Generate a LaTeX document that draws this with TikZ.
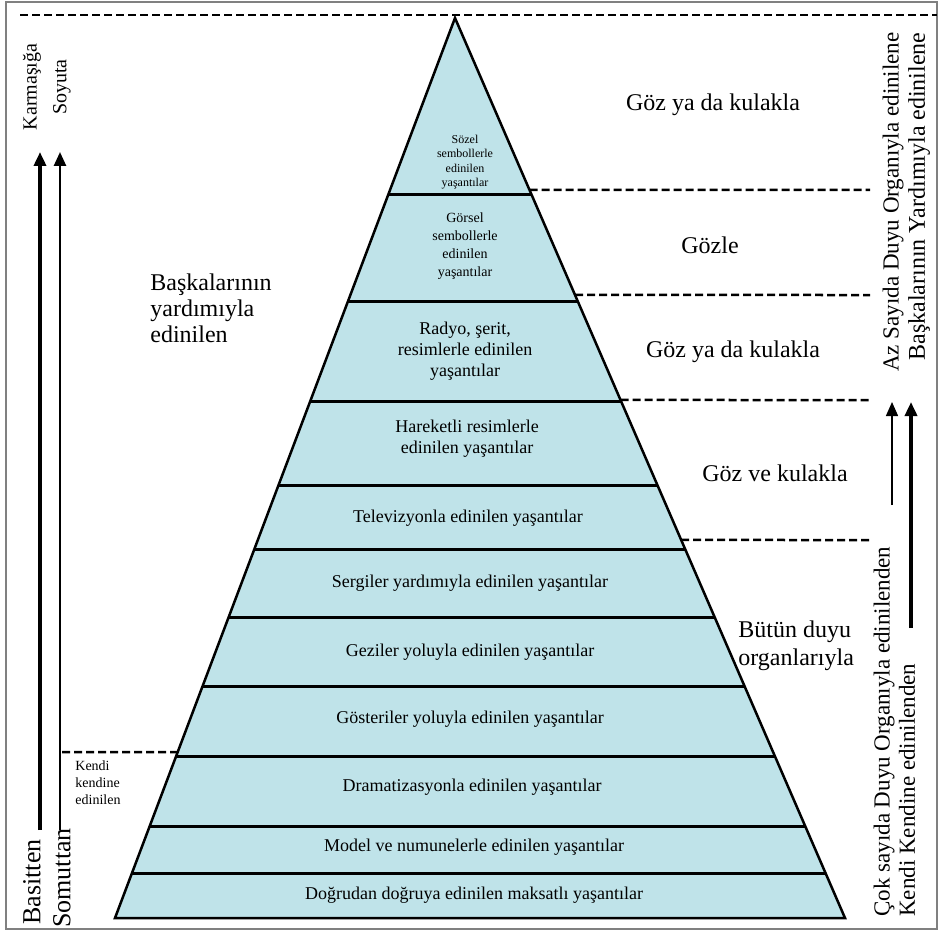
\documentclass[tikz,border=0pt]{standalone}
\usepackage{fontspec}
\setmainfont{Liberation Serif}
\usetikzlibrary{calc,arrows.meta}
\definecolor{pyr}{RGB}{191,227,233}

\begin{document}
\begin{tikzpicture}[x=1pt,y=-1pt,thick]
\tikzstyle{lvl}=[font=\fontsize{18}{21}\selectfont,align=center,inner sep=0]
\tikzstyle{side}=[font=\fontsize{24}{28}\selectfont,align=left,inner sep=0]
\tikzstyle{vert}=[rotate=90,inner sep=0]
\tikzstyle{sep}=[dash pattern=on 8pt off 4pt,line width=2.5pt]
\tikzstyle{rung}=[line width=3pt]
\tikzstyle{up}=[-{Triangle[length=14pt,width=12pt]}]
\useasboundingbox (0,0) rectangle (941,933);
\draw[gray,line width=1.5pt] (6,2) rectangle (937,929);

% pyramid
\coordinate (top) at (455,18);
\coordinate (bl)  at (115,918);
\coordinate (br)  at (845,918);
\fill[pyr] (top) -- (bl) -- (br) -- cycle;
\foreach \y in {195,302,401,486,549,618,686,756,826,873}
  \draw[rung] ($(top)!{(\y-18)/900}!(bl)$) -- ($(top)!{(\y-18)/900}!(br)$);
\draw[line width=2.5pt] (top) -- (bl) -- (br) -- cycle;

% dashed separators
\draw[sep] (20,15) -- (937,15);
\foreach \y in {190,295,400,540}
  \draw[sep] ($(top)!{(\y-18)/900}!(br)$) -- (870,\y);
\draw[sep] (62,752) -- ($(top)!{(752-18)/900}!(bl)$);

% levels
\node[lvl,font=\fontsize{12}{14.5}\selectfont] (l1)  at (465,162) {Sözel\\sembollerle\\edinilen\\yaşantılar};
\node[lvl,font=\fontsize{14}{18}\selectfont]   (l2)  at (465,246) {Görsel\\sembollerle\\edinilen\\yaşantılar};
\node[lvl] (l3)  at (465,351) {Radyo, şerit,\\resimlerle edinilen\\yaşantılar};
\node[lvl] (l4)  at (467,439) {Hareketli resimlerle\\edinilen yaşantılar};
\node[lvl] (l5)  at (468,518) {Televizyonla edinilen yaşantılar};
\node[lvl] (l6)  at (470,583) {Sergiler yardımıyla edinilen yaşantılar};
\node[lvl] (l7)  at (470,652) {Geziler yoluyla edinilen yaşantılar};
\node[lvl] (l8)  at (470,719) {Gösteriler yoluyla edinilen yaşantılar};
\node[lvl] (l9)  at (472,787) {Dramatizasyonla edinilen yaşantılar};
\node[lvl] (l10) at (474,847) {Model ve numunelerle edinilen yaşantılar};
\node[lvl] (l11) at (474,895) {Doğrudan doğruya edinilen maksatlı yaşantılar};

% senses
\node[side] (s1) at (713,105) {Göz ya da kulakla};
\node[side] (s2) at (710,245) {Gözle};
\node[side] (s3) at (733,352) {Göz ya da kulakla};
\node[side] (s4) at (775,473) {Göz ve kulakla};
\node[side,anchor=west] (s5) at (738,646) {Bütün duyu\\organlarıyla};
\node[side,anchor=west,font=\fontsize{24}{26}\selectfont] (others) at (150,308) {Başkalarının\\yardımıyla\\edinilen};
\node[side,anchor=west,font=\fontsize{14}{17}\selectfont] (self) at (75,783) {Kendi\\kendine\\edinilen};

% left axis
\node[vert,font=\fontsize{20}{24}\selectfont] (kar) at (32,87)  {Karmaşığa};
\node[vert,font=\fontsize{20}{24}\selectfont] (soy) at (62,87)  {Soyuta};
\node[vert,font=\fontsize{26}{30}\selectfont] (bas) at (32,882) {Basitten};
\node[vert,font=\fontsize{26}{30}\selectfont] (som) at (62,878) {Somuttan};
\coordinate (kb) at (40,830);  \coordinate (kt) at (40,152);
\coordinate (sb) at (60,830);  \coordinate (st) at (60,152);
\draw[up,line width=4pt]   (kb) -- (kt);
\draw[up,line width=2.5pt] (sb) -- (st);

% right axis
\node[vert,anchor=east,font=\fontsize{23}{26}\selectfont] (az)  at (893,32)  {Az Sayıda Duyu Organıyla edinilene};
\node[vert,anchor=east,font=\fontsize{24}{26}\selectfont] (bk)  at (919,32)  {Başkalarının Yardımıyla edinilene};
\node[vert,anchor=west,font=\fontsize{23}{26}\selectfont] (cok) at (884,917) {Çok sayıda Duyu Organıyla edinilenden};
\node[vert,anchor=west,font=\fontsize{23}{26}\selectfont] (kk)  at (907,917) {Kendi Kendine edinilenden};
\coordinate (ab) at (892,505); \coordinate (at) at (892,402);
\coordinate (bb) at (911,628); \coordinate (bt) at (911,402);
\draw[up,line width=1.5pt] (ab) -- (at);
\draw[up,line width=4pt]   (bb) -- (bt);
\end{tikzpicture}
\end{document}
